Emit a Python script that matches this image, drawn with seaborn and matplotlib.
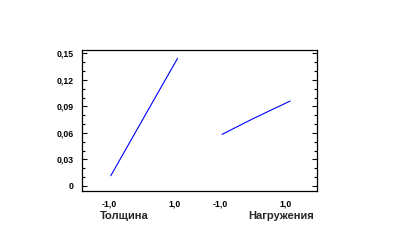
import matplotlib
matplotlib.use("Agg")
import matplotlib.pyplot as plt
import seaborn as sns
import pandas as pd
import numpy as np
from matplotlib.ticker import MultipleLocator, FixedLocator, FixedFormatter

# Data
factors = ["Толщина", "Нагружения"]
thick_x = [-0.94, -0.44, 0.46, 1.10]
thick_y = [0.0116, 0.0442, 0.1028, 0.1443]
load_x = [-0.95, 0.00, 1.13]
load_y = [0.0584, 0.0762, 0.0961]
y_ticks = [0, 0.03, 0.06, 0.09, 0.12, 0.15]
y_tick_labels = ["0", "0,03", "0,06", "0,09", "0,12", "0,15"]
x_tick_labels = ["-1,0", "1,0", "-1,0", "1,0"]

panel_offset = 3.41

df = pd.concat([
    pd.DataFrame({"x": thick_x, "y": thick_y, "factor": factors[0]}),
    pd.DataFrame({"x": np.array(load_x) + panel_offset, "y": load_y, "factor": factors[1]}),
], ignore_index=True)

sns.set_style("white")
plt.rcParams['font.family'] = ['Liberation Sans', 'DejaVu Sans']

fig = plt.figure(figsize=(4.01, 2.41), dpi=100)
ax = fig.add_axes([82.3 / 401, 1 - 190.5 / 241, (317 - 82.3) / 401, (190.5 - 50) / 241])

sns.lineplot(data=df, x="x", y="y", hue="factor", units="factor", estimator=None,
             palette=["#0000ff", "#0000ff"], linewidth=0.8, legend=False, ax=ax, sort=False)

ax.set_xlim(-1.81, 5.36)
ax.set_ylim(-0.0051, 0.1538)

ax.yaxis.set_major_locator(FixedLocator(y_ticks))
ax.yaxis.set_major_formatter(FixedFormatter(y_tick_labels))
ax.yaxis.set_minor_locator(MultipleLocator(0.01))
ax.tick_params(axis="y", which="both", direction="in", left=True, right=True,
               labelsize=6.3, colors="black", width=0.8)
ax.tick_params(axis="y", which="major", length=3.3, pad=6)
ax.tick_params(axis="y", which="minor", length=2)
for lab in ax.get_yticklabels():
    lab.set_fontweight("bold")

xt = [-1, 1, panel_offset - 1, panel_offset + 1]
ax.xaxis.set_major_locator(FixedLocator(xt))
ax.xaxis.set_major_formatter(FixedFormatter(x_tick_labels))
ax.tick_params(axis="x", which="both", length=0, labelsize=6.3, pad=6.5, colors="black")
for lab in ax.get_xticklabels():
    lab.set_fontweight("bold")

ax.set_xlabel("")
ax.set_ylabel("")
for sp in ax.spines.values():
    sp.set_visible(True)
    sp.set_color("black")
    sp.set_linewidth(0.9)

fig.text(100 / 401, 1 - 216 / 241, factors[0], ha="left", va="center",
         fontsize=8, fontweight="bold")
fig.text(314 / 401, 1 - 216 / 241, factors[1], ha="right", va="center",
         fontsize=8, fontweight="bold")

fig.savefig("out.png", dpi=100, facecolor="white")
